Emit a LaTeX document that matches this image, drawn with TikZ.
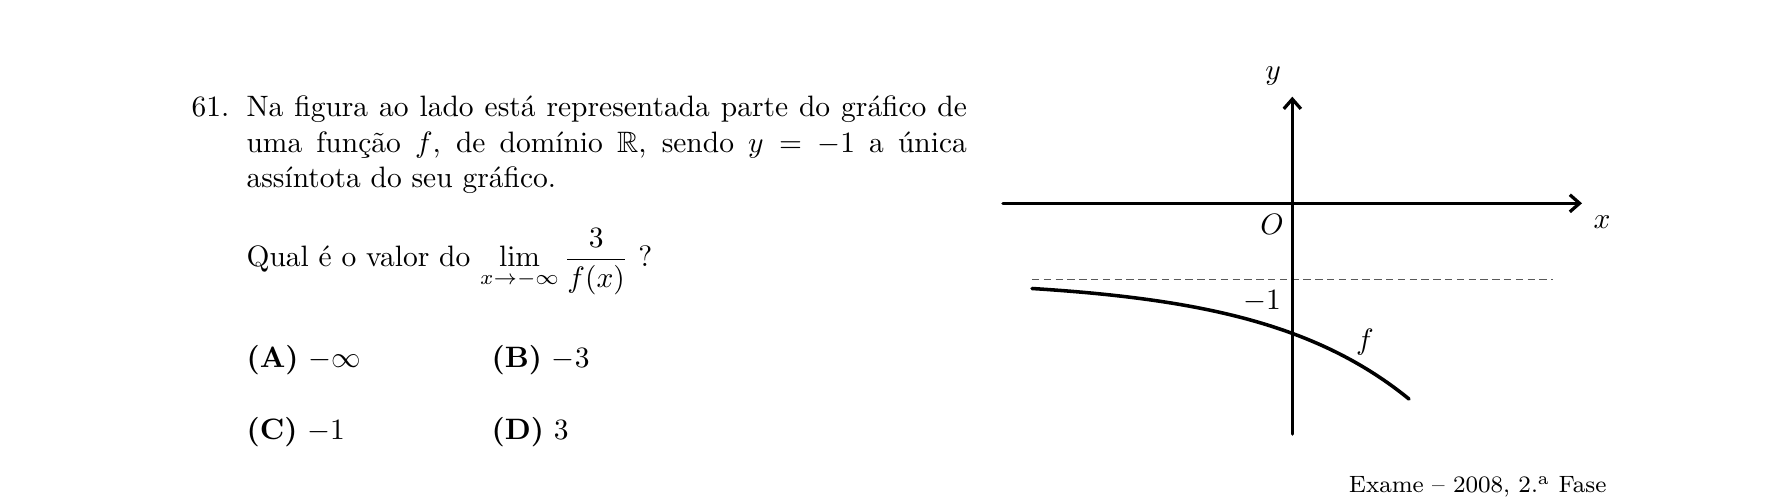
\documentclass[tikz,border=0pt]{standalone}
\usepackage{amsmath,amssymb}
\usetikzlibrary{arrows.meta}
\begin{document}
\begin{tikzpicture}[x=0.3390pt,y=-0.3390pt,
  axisline/.style={line width=1.2pt, line cap=round, -{Straight Barb[length=3.3pt,width=5.8pt,line width=1.1pt]}},
  graphline/.style={line width=1.2pt, line cap=round},
  asym/.style={line width=0.5pt, black!65, dash pattern=on 2.5pt off 1.5pt},
  lbl/.style={inner sep=0pt},
  txt/.style={inner sep=0pt, anchor=base west}]
\useasboundingbox (0,0) rectangle (1785,498);
% text
\node[txt] (num) at (191,117) {61.};
\node[txt] (para) at (246,117) {\parbox[t]{244.2pt}{Na figura ao lado está representada parte do gráfico de\linebreak uma função $f$, de domínio $\mathbb{R}$, sendo $y=-1$ a única\linebreak assíntota do seu gráfico.}};
\node[txt] (quest) at (246,267) {Qual é o valor do $\displaystyle\lim_{x\to-\infty}\frac{3}{f(x)}$ ?};
\node[txt] (optA) at (246,368) {\textbf{(A)} $-\infty$};
\node[txt] (optB) at (491,368) {\textbf{(B)} $-3$};
\node[txt] (optC) at (246,440) {\textbf{(C)} $-1$};
\node[txt] (optD) at (491,440) {\textbf{(D)} $3$};
\node[inner sep=0pt, anchor=base east] (src) at (1607,493) {\footnotesize Exame -- 2008, 2.\textsuperscript{a} Fase};
% graph
\coordinate (xl) at (1003,203.3);
\coordinate (xr) at (1582,203.3);
\coordinate (yb) at (1292.3,434);
\coordinate (yt) at (1292.3,96.7);
\coordinate (al) at (1032,279.3);
\coordinate (ar) at (1553,279.3);
\draw[asym] (al) -- (ar);
\draw[axisline] (xl) -- (xr);
\draw[axisline] (yb) -- (yt);
\draw[graphline] plot[domain=1032:1409, samples=80, smooth] (\x,{279.3+54*exp(0.0068*(\x-1292))});
\node[lbl] (ly) at (1273,76) {$y$};
\node[lbl] (lx) at (1602,222) {$x$};
\node[lbl] (lo) at (1272,224) {$O$};
\node[lbl] (lm) at (1262,301) {$-1$};
\node[lbl] (lf) at (1365,342) {$f$};
\end{tikzpicture}
\end{document}
